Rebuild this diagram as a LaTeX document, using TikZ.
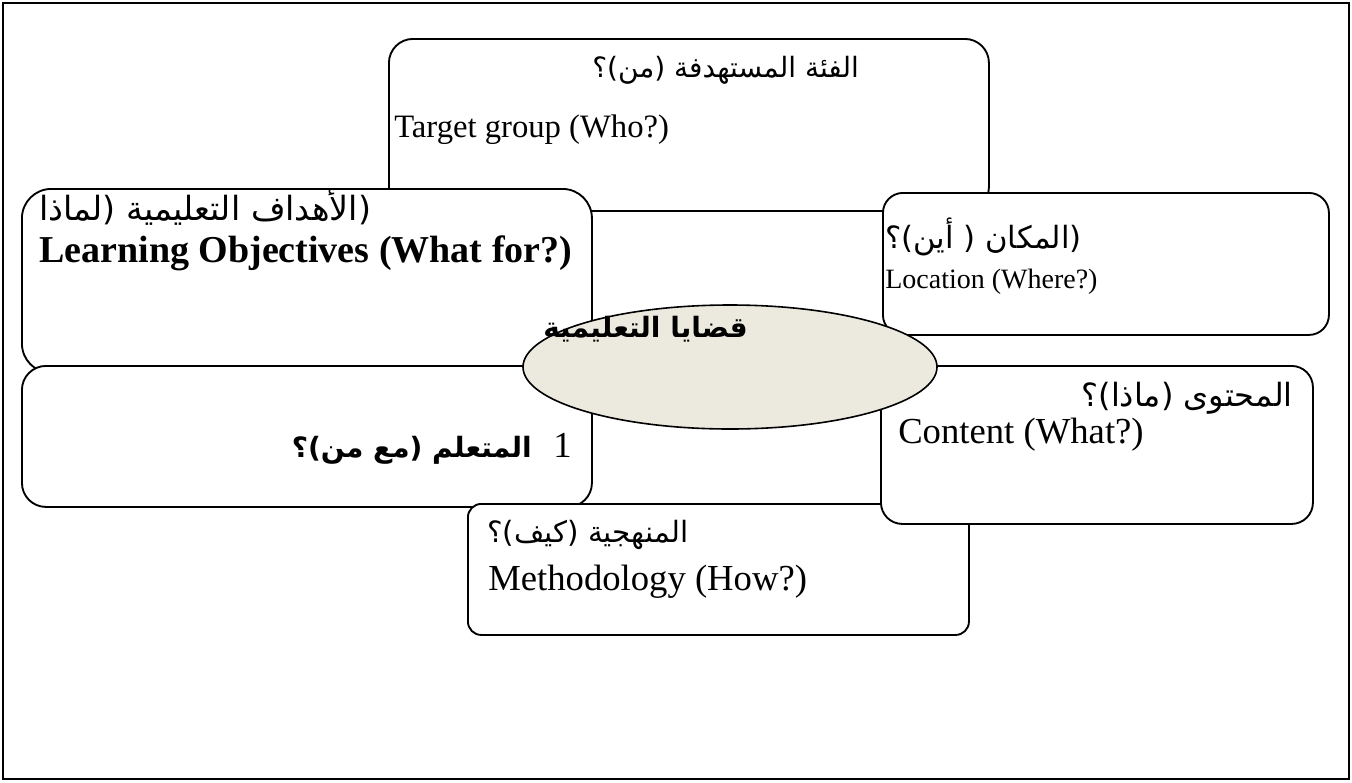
\documentclass[tikz,border=0pt]{standalone}
\usepackage{fontspec}
\setmainfont{Liberation Serif}
\newfontfamily\arabicfont[Script=Arabic]{DejaVu Sans}
\TeXXeTstate=1
\usetikzlibrary{shapes.geometric}

\definecolor{ovalfill}{HTML}{ECEADF}
\newcommand{\artext}[1]{{\arabicfont\beginR #1\endR}}
\newcommand{\fsz}[1]{\fontsize{#1}{#1}\selectfont}

\begin{document}
\begin{tikzpicture}[x=0.75pt, y=-0.75pt,
    panel/.style={draw, line width=1.4pt, fill=white, anchor=north west,
      inner sep=0pt, rounded corners=#1},
    panel/.default=18pt,
    entext/.style={anchor=base west, inner sep=0pt, font=\fsz{27.5}},
    artxt/.style={anchor=base west, inner sep=0pt, font=\fsz{22}}]
  \useasboundingbox (0,0) rectangle (1352,782);
  % Frame
  \draw[line width=2.2pt] (3,3) rectangle (1349,779);
  % Panels, back to front
  \node[panel, minimum width=450pt, minimum height=129pt] (target) at (388,38) {};
  \node[panel=22pt, minimum width=427.5pt, minimum height=138pt] (aims) at (21,188) {};
  \node[panel=15pt, minimum width=334.5pt, minimum height=106.5pt] (place) at (882,192) {};
  \node[panel, minimum width=427.5pt, minimum height=105.75pt] (learner) at (21,365) {};
  \node[panel=10pt, minimum width=375.75pt, minimum height=98.25pt] (method) at (467,503) {};
  \node[panel=16pt, minimum width=324pt, minimum height=118.5pt] (content) at (880,365) {};
  % Central oval
  \node[ellipse, draw, line width=1.2pt, fill=ovalfill, minimum width=310.5pt,
    minimum height=93pt, inner sep=0pt] (issues) at (730,367) {};
  % Texts
  \node[artxt, font=\fsz{21}] (target ar) at (592,77) {\artext{الفئة المستهدفة (من)؟}};
  \node[entext, font=\fsz{24.5}] (target en) at (394,137) {Target group (Who?)};
  \node[artxt, font=\fsz{25}] (aims ar) at (39,220) {\artext{(الأهداف التعليمية (لماذا}};
  \node[entext, font=\fsz{28.5}\bfseries] (aims en) at (39,262)
    {Learning Objectives (What for?)};
  \node[artxt, font=\fsz{23}] (place ar) at (885,248) {\artext{(المكان ( أين)؟}};
  \node[entext, font=\fsz{21}] (place en) at (885,288) {Location (Where?)};
  \node[artxt, anchor=base east, font=\fsz{24}] (content ar) at (1293,406)
    {\artext{المحتوى (ماذا)؟}};
  \node[entext] (content en) at (898,443) {Content (What?)};
  \node[artxt] (method ar) at (487,542) {\artext{المنهجية (كيف)؟}};
  \node[entext] (method en) at (488,590) {Methodology (How?)};
  \node[artxt, anchor=base east, font=\fsz{21}\bfseries] (learner ar)
    at (532,457) {\artext{المتعلم (مع من)؟}};
  \node[entext] (learner num) at (553,457) {1};
  \node[artxt, font=\fsz{21}\bfseries] (issues ar) at (543,337)
    {\artext{قضايا التعليمية}};
\end{tikzpicture}
\end{document}
